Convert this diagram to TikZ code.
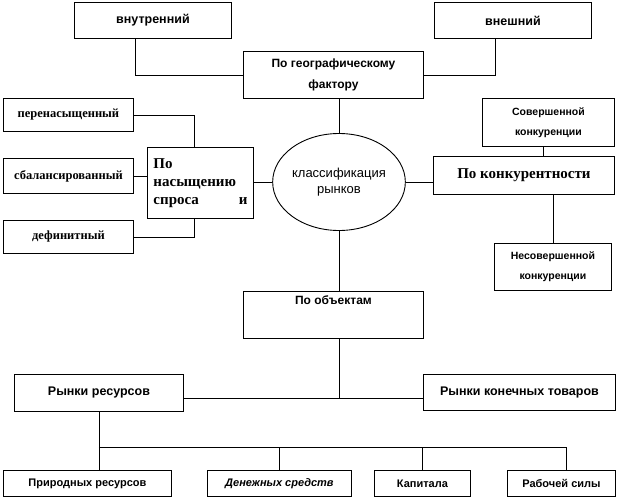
\documentclass[tikz,border=0pt]{standalone}
\usepackage{fontspec}
\setmainfont{Liberation Serif}
\setsansfont{Liberation Sans}
\usetikzlibrary{positioning, shapes.geometric, calc}
\tikzset{
    box/.style={
        draw,
        anchor=north west,
        inner sep=0pt,
        align=center,
        font=\sffamily\bfseries\fontsize{12.5}{21}\selectfont
    },
    smallbox/.style={
        box,
        font=\sffamily\bfseries\fontsize{10.5}{20}\selectfont
    },
    serifbox/.style={
        box,
        font=\rmfamily\bfseries\fontsize{12.5}{14}\selectfont
    },
    hub/.style={
        draw,
        ellipse,
        inner sep=0pt,
        align=center,
        font=\sffamily\fontsize{13}{16}\selectfont
    },
    line/.style={line width=0.9pt},
    every node/.style={line width=0.9pt}
}

\begin{document}
\begin{tikzpicture}[x=1pt, y=-1pt]
\useasboundingbox (0,0) rectangle (630,498);

% geography
\node[box, minimum width=157pt, minimum height=36pt] (vnutr) at (74,2) {внутренний};
\node[box, minimum width=157pt, minimum height=36pt] (vnesh) at (434,2) {внешний};
\node[box, minimum width=180pt, minimum height=47pt, font=\sffamily\bfseries\fontsize{12}{21}\selectfont] (geo) at (243,51) {По географическому\\фактору};

\node[hub, minimum width=121pt, minimum height=97pt] (hub) at (339,182) {классификация\\рынков};

% saturation
\node[serifbox, minimum width=130pt, minimum height=33pt] (pere) at (3,98) {перенасыщенный};
\node[serifbox, minimum width=130pt, minimum height=35pt] (sbal) at (3,158) {сбалансированный};
\node[serifbox, minimum width=130pt, minimum height=33pt] (defi) at (3,220) {дефинитный};
\node[serifbox, minimum width=106pt, minimum height=71pt, text width=94pt, align=left,
      font=\rmfamily\bfseries\fontsize{15}{18}\selectfont] (nas) at (147,147)
      {По\\насыщению\\\makebox[94pt]{спроса\hfill и}};

% competition
\node[smallbox, minimum width=132pt, minimum height=48pt] (sover) at (482,98) {Совершенной\\конкуренции};
\node[box, minimum width=181pt, minimum height=38pt,
      font=\rmfamily\bfseries\fontsize{15}{18}\selectfont] (konk) at (433,156) {По конкурентности};
\node[smallbox, minimum width=117pt, minimum height=47pt] (nesov) at (494,243) {Несовершенной\\конкуренции};

% objects
\node[box, minimum width=180pt, minimum height=47pt, text depth=30pt, font=\sffamily\bfseries\fontsize{12}{21}\selectfont] (obj) at (243,291) {По объектам};
\node[box, minimum width=169pt, minimum height=37pt] (res) at (14,374) {Рынки ресурсов};
\node[box, minimum width=192pt, minimum height=36pt] (kon) at (423,374) {Рынки конечных товаров};

\node[box, minimum width=168pt, minimum height=26pt, font=\sffamily\bfseries\fontsize{11}{13}\selectfont] (prir) at (3,470) {Природных ресурсов};
\node[box, minimum width=144pt, minimum height=26pt, font=\sffamily\bfseries\itshape\fontsize{11}{13}\selectfont] (den) at (207,470) {Денежных средств};
\node[box, minimum width=96pt, minimum height=26pt, font=\sffamily\bfseries\fontsize{11}{13}\selectfont] (kap) at (374,470) {Капитала};
\node[box, minimum width=108pt, minimum height=26pt, font=\sffamily\bfseries\fontsize{11}{13}\selectfont] (rab) at (507,470) {Рабочей силы};

\coordinate (objbus) at (0,398);
\coordinate (resbus) at (0,447);

\draw[line] ([xshift=-18pt]vnutr.south) |- (geo.west);
\draw[line] ([xshift=-18pt]vnesh.south) |- (geo.east);
\draw[line] (hub.north |- geo.south) -- (hub.north);

\draw[line] (pere.east) -| ([xshift=-6pt]nas.north);
\draw[line] (sbal.east) -- (sbal.east -| nas.west);
\draw[line] (nas.east |- hub.west) -- (hub.west);
\draw[line] (defi.east) -| ([xshift=-6pt]nas.south);

\draw[line] (hub.east) -- (hub.east -| konk.west);
\draw[line] ([xshift=-5pt]sover.south) -- ([xshift=-5pt]sover.south |- konk.north);
\draw[line] (nesov.north) -- (nesov.north |- konk.south);

\draw[line] (hub.south) -- (hub.south |- obj.north);
\draw[line] (hub.south |- obj.south) -- (hub.south |- objbus);
\draw[line] (res.east |- objbus) -- (kon.west |- objbus);

\draw[line] (res.south) -- (res.south |- prir.north);
\draw[line] (res.south |- resbus) -- ([xshift=5pt]rab.north |- resbus);
\foreach \b in {den, kap}
    \draw[line] (\b.north |- resbus) -- (\b.north);
\draw[line] ([xshift=5pt]rab.north |- resbus) -- ([xshift=5pt]rab.north);
\end{tikzpicture}
\end{document}
